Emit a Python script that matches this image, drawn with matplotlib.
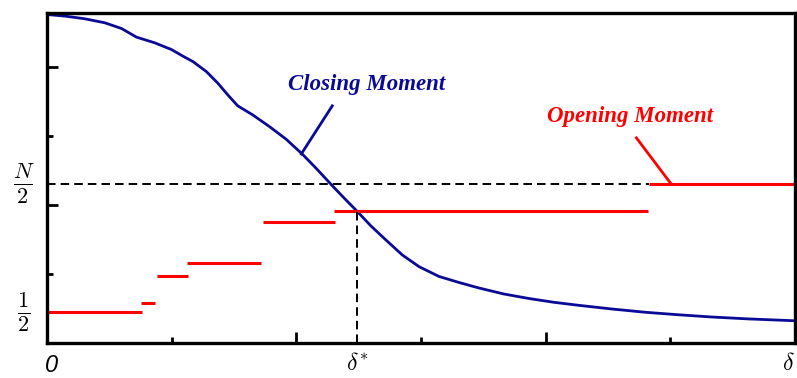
import matplotlib.pyplot as plt
import numpy as np

plt.rcParams['mathtext.fontset'] = 'cm'

# closing moment curve
close_x = [0.0, 0.144, 0.304, 0.464, 0.598, 0.718, 0.864, 0.998, 1.09, 1.17,
           1.278, 1.37, 1.45, 1.53, 1.65, 1.784, 1.918, 2.05, 2.158, 2.29,
           2.398, 2.49, 2.598, 2.718, 2.85, 2.984, 3.144, 3.304, 3.464, 3.664,
           3.864, 4.064, 4.264, 4.528, 4.8, 5.064, 5.328, 5.624, 6.0]
close_y = [4.758, 4.735, 4.696, 4.638, 4.555, 4.43, 4.348, 4.251, 4.155, 4.077,
           3.932, 3.764, 3.594, 3.435, 3.304, 3.135, 2.952, 2.732, 2.532, 2.275,
           2.072, 1.903, 1.696, 1.493, 1.275, 1.106, 0.964, 0.877, 0.797, 0.710,
           0.645, 0.590, 0.546, 0.493, 0.445, 0.409, 0.377, 0.349, 0.322]

# opening moment steps: (start, end, level)
open_start = [0.0, 0.75, 0.88, 1.12, 1.73, 2.30, 4.83]
open_end = [0.76, 0.87, 1.13, 1.72, 2.31, 4.82, 6.0]
open_level = [0.449, 0.584, 0.971, 1.164, 1.758, 1.909, 2.30]

half_N = 2.30
half_one = 0.449
delta_star = 2.488

blue = '#0a0a96'
red = '#ff0000'

fig = plt.figure(figsize=(7.97, 3.78), dpi=100)
ax = fig.add_axes([0.059, 0.0926, 0.9385, 0.873])

ax.plot(close_x, close_y, color=blue, lw=2.0, solid_joinstyle='round')
for s, e, v in zip(open_start, open_end, open_level):
    ax.plot([s, e], [v, v], color=red, lw=2.2, solid_capstyle='butt')

# reference lines
ax.plot([0, open_start[-1]], [half_N, half_N], color='black', lw=1.4,
        dashes=(4.4, 2.6))
ax.plot([delta_star, delta_star], [0, open_level[5]], color='black', lw=1.4,
        dashes=(4.4, 2.6))

# labels with leader lines
ax.plot([2.04, 2.288], [2.739, 3.435], color=blue, lw=2.0)
ax.text(2.56, 3.74, 'Closing Moment', color=blue, fontsize=16.5,
        family='Liberation Serif', weight='bold', style='italic',
        ha='center', va='center')
ax.plot([4.728, 5.008], [2.971, half_N], color=red, lw=2.0)
ax.text(4.68, 3.275, 'Opening Moment', color=red, fontsize=16.5,
        family='Liberation Serif', weight='bold', style='italic',
        ha='center', va='center')

ax.set_xlim(0, 6)
ax.set_ylim(0, 4.78)

ax.set_xticks([2, 4])
ax.set_xticks([1, 3, 5], minor=True)
ax.set_yticks([2, 4])
ax.set_yticks([1, 3], minor=True)
ax.tick_params(which='major', direction='in', length=8, width=2, labelbottom=False, labelleft=False)
ax.tick_params(which='minor', direction='in', length=4.5, width=2)
ax.tick_params(top=False, right=False, which='both')
for sp in ax.spines.values():
    sp.set_linewidth(2.4)

# axis labels placed at their values
xt = ax.get_xaxis_transform()
yt = ax.get_yaxis_transform()
ax.text(0.04, -0.068, '0', transform=xt, ha='center', va='center', fontsize=17,
        family='Liberation Sans', style='italic')
ax.text(delta_star, -0.062, r'$\delta^{*}$', transform=xt, ha='center', va='center', fontsize=17)
ax.text(5.995, -0.062, r'$\delta$', transform=xt, ha='right', va='center', fontsize=17)
ax.text(-0.031, half_N, r'$\frac{N}{2}$', transform=yt, ha='center', va='center', fontsize=23)
ax.text(-0.031, half_one, r'$\frac{1}{2}$', transform=yt, ha='center', va='center', fontsize=23)

fig.savefig('out.png', dpi=100)
